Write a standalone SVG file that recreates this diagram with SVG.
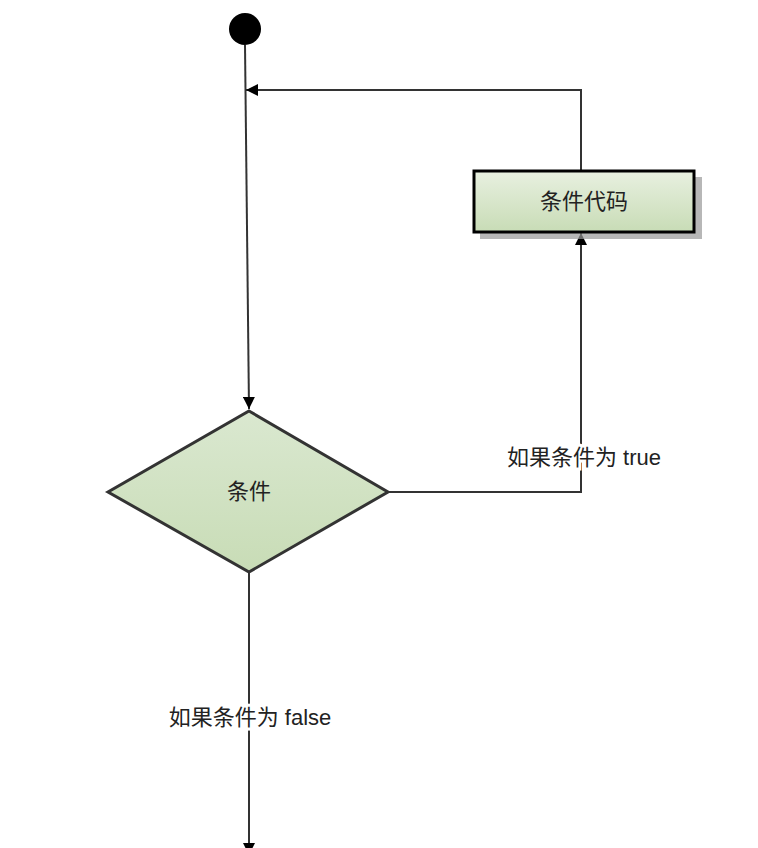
<svg xmlns="http://www.w3.org/2000/svg" width="758" height="848" viewBox="0 0 758 848">
<style>
.ln{fill:none;stroke:#333;stroke-width:2}
.t{font-family:"Liberation Sans","Noto Sans CJK SC",sans-serif;font-size:22px;fill:#222;text-anchor:middle}
</style>
<defs>
<linearGradient id="g" x1="0" y1="0" x2="0" y2="1"><stop offset="0" stop-color="#e8f0e0"/><stop offset="1" stop-color="#c8dcb6"/></linearGradient>
<linearGradient id="g2" x1="0" y1="0" x2="0" y2="1"><stop offset="0" stop-color="#dae8d0"/><stop offset="1" stop-color="#c8dcb6"/></linearGradient>
<marker id="a" viewBox="0 0 10 10" refX="10" refY="5" markerWidth="14" markerHeight="12" orient="auto" markerUnits="userSpaceOnUse"><path d="M0,0L10,5L0,10z" fill="#000"/></marker>
</defs>
<rect width="758" height="848" fill="#fff"/>
<g id="connectors">
<path class="ln" d="M245,45L249,409" marker-end="url(#a)"/>
<path class="ln" d="M581,170V90H246" marker-end="url(#a)"/>
<path class="ln" d="M388,492H581V233" marker-end="url(#a)"/>
<path class="ln" d="M249,572V855" marker-end="url(#a)"/>
</g>
<g id="start"><circle cx="245" cy="29" r="16" fill="#000"/></g>
<g id="code">
<rect x="480" y="177" width="222" height="62" fill="#999" opacity="0.7"/>
<rect x="474" y="171" width="220" height="61" fill="url(#g)" stroke="#000" stroke-width="3"/>
<text class="t" x="584" y="209">条件代码</text>
</g>
<g id="cond">
<polygon points="249,411 388,492 249,572 108,492" fill="url(#g2)" stroke="#333" stroke-width="3"/>
<text class="t" x="249" y="499">条件</text>
</g>
<g id="labels">
<text class="t" x="584" y="465" paint-order="stroke" stroke="#fff" stroke-width="6">如果条件为 true</text>
<text class="t" x="250" y="725" paint-order="stroke" stroke="#fff" stroke-width="6">如果条件为 false</text>
</g>
</svg>
